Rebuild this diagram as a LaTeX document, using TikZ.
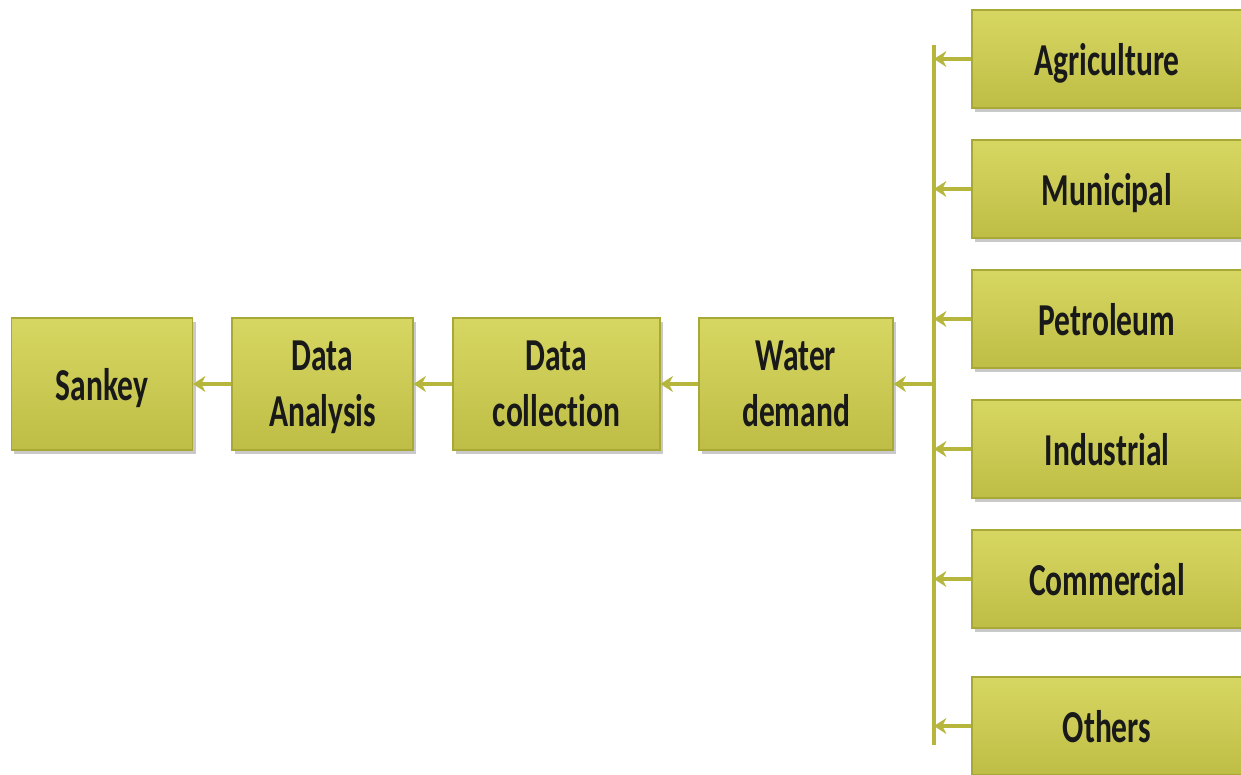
\documentclass[tikz,border=0pt]{standalone}
\usepackage{fontspec}
\newfontfamily\boxfont[FakeStretch=0.69,Ligatures=NoCommon]{Carlito}
\usetikzlibrary{shadows,arrows.meta}
\definecolor{olivebox}{RGB}{200,200,82}
\definecolor{olivetop}{RGB}{214,214,98}
\definecolor{olivebot}{RGB}{190,190,70}
\definecolor{oliveedge}{RGB}{168,168,55}
\definecolor{olivearrow}{RGB}{182,182,60}
\tikzset{
    stagebox/.style = {rectangle, minimum height = 2.64cm, inner sep = 0pt,
        top color = olivetop, bottom color = olivebot, draw = oliveedge, line width = 0.6pt,
        drop shadow = {shadow xshift = 0.06cm, shadow yshift = -0.08cm, opacity = 0.35, fill = black!60},
        align = center, font = \boxfont\bfseries\fontsize{26}{32}\selectfont, text = black!90,
        text depth = 0pt},
    usebox/.style = {stagebox, minimum width = 5.4cm, minimum height = 1.96cm},
    flow/.style = {draw = olivearrow, line width = 2.4pt, -{Stealth[length = 7pt, width = 9pt]}}
}
\begin{document}
\begin{tikzpicture}
    \useasboundingbox[fill = white] (0,0) rectangle (24.82,15.5);
    % main chain
    \node[stagebox, minimum width = 3.62cm] (sankey) at (2.04,7.82) {Sankey};
    \node[stagebox, minimum width = 3.62cm] (analysis) at (6.45,7.82) {Data\\Analysis};
    \node[stagebox, minimum width = 4.14cm] (collection) at (11.13,7.82) {Data\\collection};
    \node[stagebox, minimum width = 3.88cm] (water) at (15.92,7.82) {Water\\demand};
    % sectors
    \node[usebox] (agri) at (22.14,14.32) {Agriculture};
    \node[usebox] (muni) at (22.14,11.72) {Municipal};
    \node[usebox] (petro) at (22.14,9.12) {Petroleum};
    \node[usebox] (indus) at (22.14,6.52) {Industrial};
    \node[usebox] (comm) at (22.14,3.92) {Commercial};
    \node[usebox] (others) at (22.14,0.98) {Others};
    % bus
    \coordinate (bustop) at (18.68,14.6);
    \coordinate (busbot) at (18.68,0.6);
    \draw[draw = olivearrow, line width = 1.8pt] (bustop) -- (busbot);
    \foreach \src in {agri, muni, petro, indus, comm, others}
        \draw[flow] (\src.west) -- (\src.west -| bustop);
    \draw[flow] (bustop |- water) -- (water.east);
    \draw[flow] (water.west) -- (collection.east);
    \draw[flow] (collection.west) -- (analysis.east);
    \draw[flow] (analysis.west) -- (sankey.east);
\end{tikzpicture}
\end{document}
